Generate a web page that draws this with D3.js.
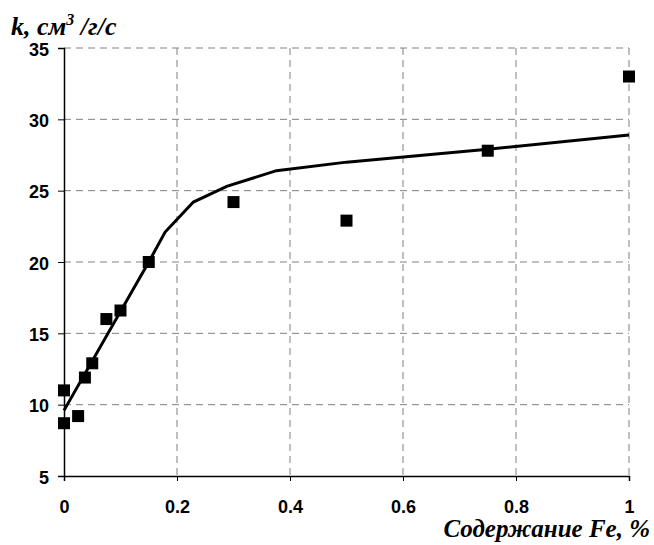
<!DOCTYPE html>
<html>
<head>
<meta charset="utf-8">
<script src="https://cdn.jsdelivr.net/npm/d3@7"></script>
<style>
  body { margin: 0; background: #fff; }
  .tick text { font-family: "Liberation Sans", Arial, sans-serif; font-weight: bold; font-size: 18px; fill: #000; }
  .title { font-family: "Liberation Serif", "Times New Roman", serif; font-weight: bold; font-style: italic; fill: #000; }
</style>
</head>
<body>
<div id="chart"></div>
<script>
// measured points
const pointX = [0, 0, 0.025, 0.037, 0.05, 0.075, 0.1, 0.15, 0.3, 0.5, 0.75, 1];
const pointY = [11.0, 8.7, 9.2, 11.9, 12.9, 16.0, 16.6, 20.0, 24.2, 22.9, 27.8, 33.0];

// model curve
const lineX = [0, 0.15, 0.179, 0.229, 0.288, 0.376, 0.5, 0.75, 1];
const lineY = [9.6, 20.0, 22.1, 24.2, 25.3, 26.4, 27.0, 27.9, 28.9];

const xTicks = [0, 0.2, 0.4, 0.6, 0.8, 1];
const yTicks = [5, 10, 15, 20, 25, 30, 35];

const width = 654, height = 545;
const margin = {left: 64, right: 25, top: 48, bottom: 69};

const svg = d3.select('#chart')
  .append('svg')
    .attr('width', width)
    .attr('height', height);

const x = d3.scaleLinear().domain([0, 1]).range([margin.left, width - margin.right]);
const y = d3.scaleLinear().domain([5, 35]).range([height - margin.bottom, margin.top]);

// grid
const grid = svg.append('g')
  .attr('stroke', '#808080')
  .attr('stroke-width', 1)
  .attr('stroke-dasharray', '7,5');
grid.selectAll('line.v')
  .data(xTicks.filter(d => d > 0))
  .enter()
  .append('line')
    .attr('x1', d => x(d)).attr('x2', d => x(d))
    .attr('y1', y(35)).attr('y2', y(5));
grid.selectAll('line.h')
  .data(yTicks.filter(d => d > 5))
  .enter()
  .append('line')
    .attr('x1', x(0)).attr('x2', x(1))
    .attr('y1', d => y(d)).attr('y2', d => y(d));

// axes
const xAxis = svg.append('g')
  .attr('transform', `translate(0,${y(5)})`)
  .call(d3.axisBottom(x).tickValues(xTicks).tickFormat(d3.format('')).tickSize(5).tickPadding(19));
const yAxis = svg.append('g')
  .attr('transform', `translate(${x(0)},0)`)
  .call(d3.axisLeft(y).tickValues(yTicks).tickSize(6).tickPadding(9));
yAxis.selectAll('.tick text').attr('dy', '0.4em');
[xAxis, yAxis].forEach(a => {
  a.select('.domain').attr('stroke', '#000').attr('stroke-width', 1.5);
  a.selectAll('.tick line').attr('stroke', '#000');
});

// line
svg.append('path')
  .datum(lineX.map((d, i) => [d, lineY[i]]))
  .attr('fill', 'none')
  .attr('stroke', '#000')
  .attr('stroke-width', 3)
  .attr('d', d3.line().x(d => x(d[0])).y(d => y(d[1])));

// squares
const s = 12;
svg.append('g')
  .selectAll('rect')
  .data(pointX.map((d, i) => [d, pointY[i]]))
  .enter()
  .append('rect')
    .attr('x', d => x(d[0]) - s / 2)
    .attr('y', d => y(d[1]) - s / 2)
    .attr('width', s)
    .attr('height', s)
    .attr('fill', '#000');

// titles
const yt = svg.append('text')
  .attr('class', 'title')
  .attr('x', 11)
  .attr('y', 35)
  .style('font-size', '26px');
yt.append('tspan').text('k, см');
yt.append('tspan').attr('dy', -10).style('font-size', '16px').text('3');
yt.append('tspan').attr('dy', 10).text(' /г/с');

svg.append('text')
  .attr('class', 'title')
  .attr('x', 650)
  .attr('y', 537)
  .attr('text-anchor', 'end')
  .style('font-size', '25px')
  .text('Содержание Fe, %');
</script>
</body>
</html>
